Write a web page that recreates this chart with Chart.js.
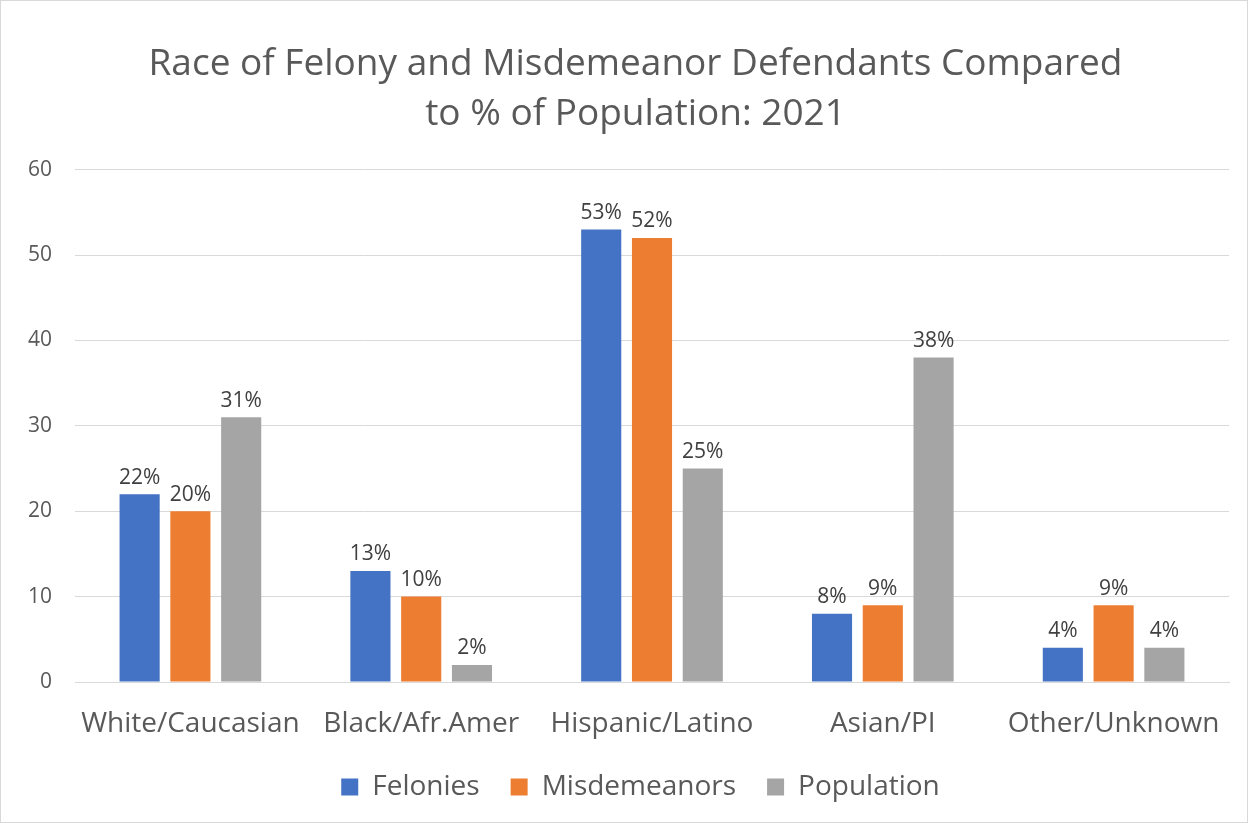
<!DOCTYPE html>
<html>
<head>
<meta charset="utf-8">
<script src="https://cdn.jsdelivr.net/npm/chart.js@4.4.0/dist/chart.umd.min.js"></script>
<style>
  html, body { margin: 0; padding: 0; background: #fff; }
  #wrap { width: 1248px; height: 823px; position: relative; }
</style>
</head>
<body>
<div id="wrap"><canvas id="raceChart" width="1248" height="823"></canvas></div>
<script>
// datos del gráfico
const categories = ['White/Caucasian', 'Black/Afr.Amer', 'Hispanic/Latino', 'Asian/PI', 'Other/Unknown'];
const felonies = [22, 13, 53, 8, 4];
const misdemeanors = [20, 10, 52, 9, 9];
const population = [31, 2, 25, 38, 4];
const yTicks = [0, 10, 20, 30, 40, 50, 60];

const FONT = "'Open Sans', 'Noto Sans', sans-serif";

// fondo blanco y borde gris
const frame = {
    id: 'frame',
    beforeDraw(chart) {
        const ctx = chart.ctx;
        ctx.save();
        ctx.fillStyle = '#fff';
        ctx.fillRect(0, 0, chart.width, chart.height);
        ctx.strokeStyle = '#d9d9d9';
        ctx.lineWidth = 1;
        ctx.strokeRect(0.5, 0.5, chart.width - 1, chart.height - 1);
        ctx.restore();
    }
};

// centrar título y leyenda sobre todo el lienzo
const recenter = {
    id: 'recenter',
    afterLayout(chart) {
        const t = chart.titleBlock;
        if (t) { t.left += 21; t.right += 21; }
        const l = chart.legend;
        if (l) { l.left += 26; l.right += 26; }
    }
};

// etiquetas de porcentaje encima de cada barra
const barLabels = {
    id: 'barLabels',
    afterDatasetsDraw(chart) {
        const ctx = chart.ctx;
        ctx.save();
        ctx.font = '21px ' + FONT;
        ctx.fillStyle = '#404040';
        ctx.textAlign = 'center';
        ctx.textBaseline = 'bottom';
        chart.data.datasets.forEach((ds, i) => {
            chart.getDatasetMeta(i).data.forEach((bar, j) => {
                ctx.fillText(ds.data[j] + '%', bar.x, bar.y - 6);
            });
        });
        ctx.restore();
    }
};

new Chart(document.getElementById('raceChart').getContext('2d'), {
    type: 'bar',
    data: {
        labels: categories,
        datasets: [
            { label: 'Felonies', data: felonies, backgroundColor: '#4472C4' },
            { label: 'Misdemeanors', data: misdemeanors, backgroundColor: '#ED7D31' },
            { label: 'Population', data: population, backgroundColor: '#A5A5A5' }
        ]
    },
    options: {
        responsive: false,
        animation: false,
        devicePixelRatio: 1,
        layout: { padding: { top: 0, left: 0, right: 19, bottom: 12 } },
        datasets: {
            bar: { categoryPercentage: 0.66, barPercentage: 0.79 }
        },
        plugins: {
            title: {
                display: true,
                text: ['Race of Felony and Misdemeanor Defendants Compared', 'to % of Population: 2021'],
                color: '#595959',
                font: { family: FONT, size: 37, weight: 'normal', lineHeight: 1.36 },
                padding: { top: 39, bottom: 30 }
            },
            legend: {
                position: 'bottom',
                labels: {
                    color: '#595959',
                    font: { family: FONT, size: 28 },
                    boxWidth: 17,
                    boxHeight: 17,
                    padding: 31
                }
            },
            tooltip: { enabled: false }
        },
        scales: {
            x: {
                grid: { display: false, drawTicks: false },
                border: { color: '#d9d9d9' },
                ticks: { color: '#595959', font: { family: FONT, size: 28 }, padding: 25 },
                afterFit(scale) { scale.height = 60; }
            },
            y: {
                min: 0,
                max: 60,
                afterBuildTicks(scale) { scale.ticks = yTicks.map(v => ({ value: v })); },
                grid: { color: '#d9d9d9', drawTicks: false },
                border: { display: false },
                ticks: { color: '#595959', font: { family: FONT, size: 21 }, padding: 23 },
                afterFit(scale) { scale.width = 75; }
            }
        }
    },
    plugins: [frame, recenter, barLabels]
});
</script>
</body>
</html>
